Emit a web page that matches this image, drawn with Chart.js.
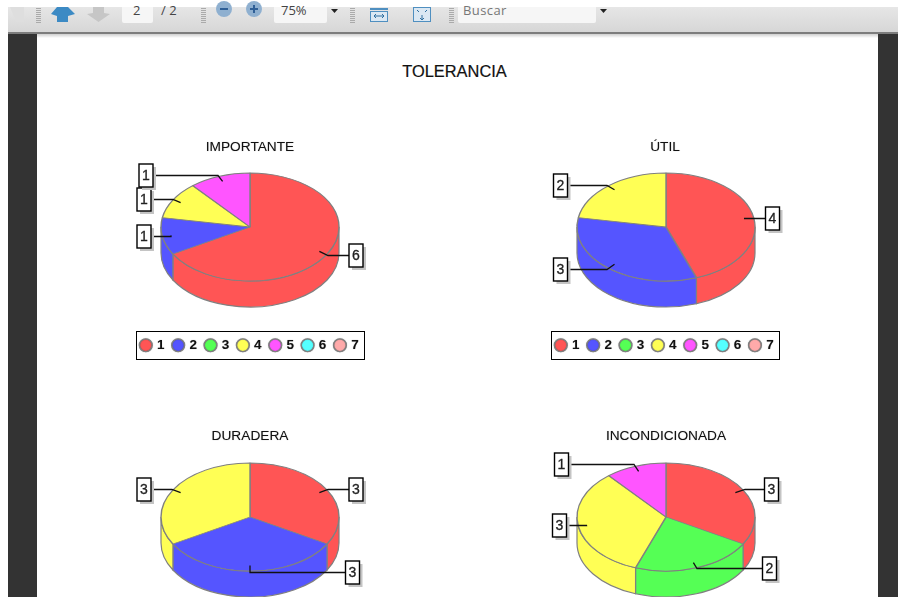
<!DOCTYPE html>
<html>
<head>
<meta charset="utf-8">
<script src="https://cdn.jsdelivr.net/npm/chart.js@4/dist/chart.umd.min.js"></script>
<style>
html,body{margin:0;padding:0;background:#fff;overflow:hidden;width:898px;height:597px;font-family:"Liberation Sans",Arial,sans-serif}
#stage{position:relative;width:898px;height:597px;overflow:hidden}
.abs{position:absolute}
#toolbar{left:8px;top:7px;width:890px;height:26px;background:linear-gradient(#e6e6e6,#d6d6d6);border-bottom:0}
#tbline{left:8px;top:32px;width:890px;height:2px;background:#7d7d7d}
#tbshadow{left:37px;top:34px;width:841px;height:4px;background:linear-gradient(#cfcfcf,#fff)}
#darkL{left:8px;top:34px;width:29px;height:563px;background:#333}
#darkR{left:878px;top:34px;width:20px;height:563px;background:#333}
.field{background:#f6f6f6;top:7px;height:16px;border-radius:0 0 2px 2px}
.tb{font:13px "Open Sans",sans-serif;color:#444;top:1px;line-height:18px;white-space:nowrap}
.grip{width:5px;background:repeating-linear-gradient(#aaa 0 1px,transparent 1px 2px);top:8px;height:16px}
#mainTitle{left:354.5px;width:200px;top:61px;text-align:center;font:16.4px "Liberation Sans",Arial,sans-serif;color:#111;line-height:20px;-webkit-text-stroke:.2px #111}
canvas{position:absolute;filter:blur(0.3px)}
</style>
</head>
<body>
<div id="stage">
  <div class="abs" id="toolbar"></div>
  <div class="abs" id="tbline"></div>
  <div class="abs" id="tbshadow"></div>
  <div class="abs" id="darkL"></div>
  <div class="abs" id="darkR"></div>

  <div class="abs grip" style="left:36px"></div>
  <div class="abs grip" style="left:201px"></div>
  <div class="abs grip" style="left:350px"></div>
  <div class="abs grip" style="left:449px"></div>

  <div class="abs field" style="left:122px;width:31px"></div>
  <div class="abs field" style="left:274px;width:53px"></div>
  <div class="abs field" style="left:458px;width:138px"></div>
  <div class="abs tb" style="left:133px">2</div>
  <div class="abs tb" style="left:161px">/ 2</div>
  <div class="abs tb" style="left:281px">75%</div>
  <div class="abs tb" style="left:463px;color:#777;letter-spacing:.4px">Buscar</div>

  <svg class="abs" style="left:0;top:0" width="898" height="40">
    <polygon points="10,7 24,7 24,22 16,22" fill="#dedede"/>
    <polygon points="57,7 68,7 75,14 68,16 68,22 57,22 57,16 51,14" fill="#3c8ac4"/>
    <polygon points="93,7 104,7 104,13 110,14 98.5,22 87,14 93,13" fill="#c6c6c6"/>
    <circle cx="224" cy="9" r="8" fill="#8fb0d0"/><rect x="220" y="8" width="8" height="2" fill="#2f5f96"/>
    <circle cx="254" cy="9" r="8" fill="#8fb0d0"/><rect x="250" y="8" width="8" height="2" fill="#2f5f96"/><rect x="253" y="5" width="2" height="8" fill="#2f5f96"/>
    <polygon points="331,9 338,9 334.5,13" fill="#222"/>
    <polygon points="600,9 607,9 603.5,13" fill="#222"/>
    <rect x="370.5" y="11.5" width="17" height="10" fill="#dbe8f3" stroke="#4f8fc0"/>
    <rect x="370" y="8" width="18" height="2" fill="#4f8fc0"/>
    <path d="M374 16h10M374 16l2-2M374 16l2 2M384 16l-2-2M384 16l-2 2" stroke="#2f6f9f" fill="none"/>
    <rect x="413.5" y="7.5" width="17" height="14" fill="#dbe8f3" stroke="#4f8fc0"/>
    <path d="M422 15v5M422 20l-2-2M422 20l2-2M417 10l2 2M427 10l-2 2" stroke="#2f6f9f" fill="none"/>
  </svg>

  <div class="abs" id="mainTitle">TOLERANCIA</div>

  <canvas id="c1" width="300" height="250" style="left:100px;top:125px"></canvas>
  <canvas id="c2" width="300" height="250" style="left:515px;top:125px"></canvas>
  <canvas id="c3" width="300" height="183" style="left:100px;top:414px"></canvas>
  <canvas id="c4" width="300" height="183" style="left:516px;top:414px"></canvas>
</div>

<script>
const categories = ['1','2','3','4','5','6','7'];
const sliceColors = ['#ff5555','#5555ff','#55ff55','#ffff55','#ff55ff','#55ffff','#ffaaaa'];

const importante = [6,1,0,1,1,0,0];
const util = [4,3,0,2,0,0,0];
const duradera = [3,3,0,3,0,0,0];
const incondicionada = [3,0,2,3,1,0,0];

const titleImportante = 'IMPORTANTE';
const titleUtil = 'ÚTIL';
const titleDuradera = 'DURADERA';
const titleIncondicionada = 'INCONDICIONADA';

/* callout placement only: slice index -> [box centre x, box centre y, elbow x], page pixels */
const calloutsImportante = {0:[356,255.5,328],1:[144,236.5,171],3:[144,199.5,173],4:[146,175.5,218]};
const calloutsUtil = {0:[772.5,218.5,744],1:[560.5,269.5,607],3:[560.5,185.5,607]};
const calloutsDuradera = {0:[356,489.5,328],1:[352.5,572.5,250],3:[144,489.5,172]};
const calloutsIncondicionada = {0:[771.5,489.5,745],2:[769.5,568.5,697],3:[559.5,525.5,587],4:[561.5,464.5,634]};

const RX = 89, RY = 54, DEPTH = 26;
const FONT = '"Liberation Sans", Arial, sans-serif';

const pie3d = {
  id: 'pie3d',
  beforeDraw(chart) {
    const ctx = chart.ctx;
    const leg = chart.legend;
    if (leg && leg.options.display && leg.legendHitBoxes && leg.legendHitBoxes.length) {
      const h = leg.legendHitBoxes;
      const x0 = h[0].left - 5.5, x1 = h[h.length - 1].left + h[h.length - 1].width + 5;
      const yc = h[0].top + h[0].height / 2;
      ctx.save();
      ctx.strokeStyle = '#000';
      ctx.lineWidth = 1;
      ctx.strokeRect(Math.round(x0) + 0.5, Math.round(yc - 14) + 0.5, Math.round(x1 - x0), 28);
      ctx.restore();
    }
    /* a soft halo thickens the title text drawn next */
    ctx.save();
    ctx.shadowColor = 'rgba(0,0,0,.35)';
    ctx.shadowBlur = 1;
  },
  beforeDatasetsDraw(chart, args, o) {
    const ctx = chart.ctx;
    ctx.restore();
    const arcs = chart.getDatasetMeta(0).data;
    const cx = arcs[0].x + o.dx, cy = o.centerY;
    ctx.save();
    arcs.forEach(a => {
      const s = Math.max(a.startAngle, 0), e = Math.min(a.endAngle, Math.PI);
      if (e <= s) return;
      ctx.beginPath();
      ctx.ellipse(cx, cy, RX, RY, 0, s, e);
      ctx.ellipse(cx, cy + DEPTH, RX, RY, 0, e, s, true);
      ctx.closePath();
      ctx.fillStyle = a.options.backgroundColor;
      ctx.fill();
      ctx.strokeStyle = '#808080';
      ctx.lineWidth = 1.2;
      ctx.stroke();
    });
    ctx.restore();
    ctx.save();
    ctx.translate(cx, cy);
    ctx.scale(1, RY / RX);
    ctx.translate(-arcs[0].x, -arcs[0].y);
  },
  afterDatasetsDraw(chart, args, o) {
    const ctx = chart.ctx;
    ctx.restore();
    const arcs = chart.getDatasetMeta(0).data;
    const values = chart.data.datasets[0].data;
    const cx = arcs[0].x + o.dx, cy = o.centerY;
    const ox = chart.canvas.offsetLeft, oy = chart.canvas.offsetTop;
    Object.keys(o.callouts).forEach(k => {
      const a = arcs[k];
      const [bx, by, ex] = o.callouts[k];
      const mid = (a.startAngle + a.endAngle) / 2;
      const ax = cx + Math.cos(mid) * RX * 0.9;
      const ay = cy + Math.sin(mid) * RY * 0.9;
      const px = bx - ox, py = by - oy, elbow = ex - ox;
      const edge = px < cx ? px + 7 : px - 7;
      ctx.save();
      ctx.strokeStyle = '#111';
      ctx.lineWidth = 1.3;
      ctx.beginPath();
      ctx.moveTo(ax, ay);
      ctx.lineTo(elbow, py);
      ctx.lineTo(edge, py);
      ctx.stroke();
      ctx.fillStyle = '#c4c4c4';
      ctx.fillRect(px - 7 + 3, py - 11.5 + 3, 14, 23);
      ctx.fillStyle = '#fff';
      ctx.fillRect(px - 7, py - 11.5, 14, 23);
      ctx.strokeStyle = '#000';
      ctx.lineWidth = 1.4;
      ctx.strokeRect(px - 7, py - 11.5, 14, 23);
      ctx.font = '14px ' + FONT;
      ctx.textAlign = 'center';
      ctx.textBaseline = 'middle';
      ctx.fillStyle = '#222';
      ctx.strokeStyle = '#222';
      ctx.lineWidth = 0.3;
      ctx.fillText(String(values[k]), px, py + 0.5);
      ctx.strokeText(String(values[k]), px, py + 0.5);
      ctx.restore();
    });
  }
};

function makePie(id, title, values, callouts, centerY, withLegend, dx) {
  new Chart(document.getElementById(id), {
    type: 'pie',
    plugins: [pie3d],
    data: {
      labels: categories,
      datasets: [{
        data: values,
        backgroundColor: sliceColors,
        borderColor: '#808080',
        borderWidth: 1.4,
        clip: false
      }]
    },
    options: {
      responsive: false,
      animation: false,
      events: [],
      radius: RX,
      rotation: 0,
      layout: { padding: { bottom: withLegend ? 13 : 0 } },
      plugins: {
        tooltip: { enabled: false },
        title: {
          display: true, text: title, color: '#111',
          font: { family: FONT, size: 13.7, weight: 'normal' },
          padding: { top: 14, bottom: 0 }
        },
        legend: {
          display: withLegend,
          position: 'bottom',
          labels: {
            color: '#111',
            font: { family: FONT, size: 13.5, weight: 'bold' },
            usePointStyle: true,
            pointStyle: 'circle',
            boxWidth: 9, boxHeight: 9,
            padding: 9.1
          }
        },
        pie3d: { centerY, callouts, dx }
      }
    }
  });
}

makePie('c1', titleImportante, importante, calloutsImportante, 102, true, 0);
makePie('c2', titleUtil, util, calloutsUtil, 102, true, 1);
makePie('c3', titleDuradera, duradera, calloutsDuradera, 103, false, 0);
makePie('c4', titleIncondicionada, incondicionada, calloutsIncondicionada, 103, false, 0);
</script>
</body>
</html>
